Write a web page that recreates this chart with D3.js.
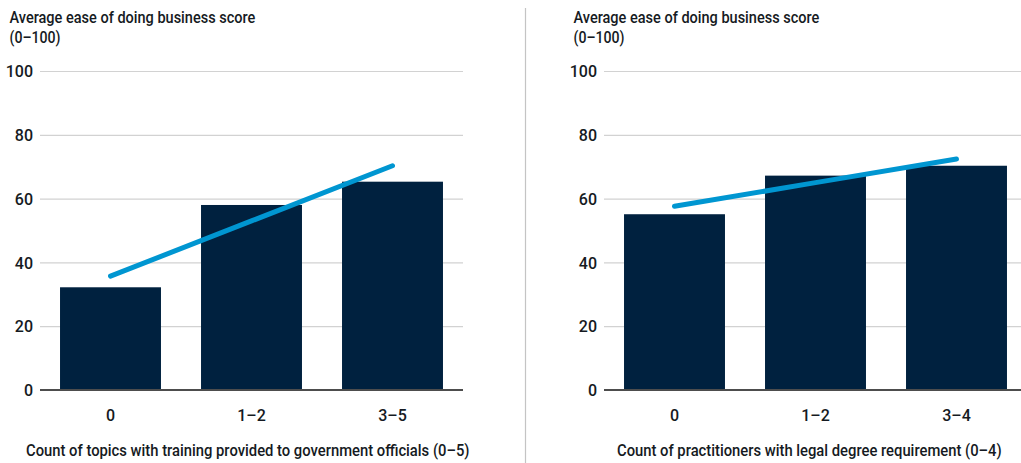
<!DOCTYPE html>
<html><head><meta charset="utf-8">
<script src="https://cdn.jsdelivr.net/npm/d3@7"></script>
<style>
html,body{margin:0;padding:0;background:#fff;}
svg{display:block;font-family:Roboto,"Open Sans",sans-serif;}
</style></head>
<body>
<svg id="c" width="1021" height="463"></svg>
<script>
const yTitle = ["Average ease of doing business score", "(0–100)"];
const yTicks = [0, 20, 40, 60, 80, 100];

const leftCategories = ["0", "1–2", "3–5"];
const leftValues = [32.2, 58.0, 65.3];
const leftTrend = [35.7, 53.0, 70.3];
const leftXTitle = "Count of topics with training provided to government officials (0–5)";

const rightCategories = ["0", "1–2", "3–4"];
const rightValues = [55.1, 67.2, 70.3];
const rightTrend = [57.6, 65.0, 72.4];
const rightXTitle = "Count of practitioners with legal degree requirement (0–4)";

const svg = d3.select("#c");
const NAVY = "#00213f", BLUE = "#0096d1", INK = "#151a22";

const y = d3.scaleLinear().domain([0, 100]).range([390, 71]);

// condensed text: draw at natural size then squeeze horizontally to a target width
function condensedText(parent, txt, x0, y0, width, size) {
  const g = parent.append("g");
  const t = g.append("text").attr("x", 0).attr("y", 0).attr("font-size", size)
    .attr("font-weight", 500).attr("fill", INK).text(txt);
  const w = t.node().getComputedTextLength();
  g.attr("transform", `translate(${x0},${y0}) scale(${width / w},1)`);
  return g;
}

// divider
svg.append("line").attr("x1", 525.5).attr("x2", 525.5).attr("y1", 8).attr("y2", 463)
  .attr("stroke", "#c4c4c4").attr("stroke-width", 1.2);

function panel(cfg) {
  const g = svg.append("g");
  const x = d3.scaleBand().domain(cfg.cats).range(cfg.range).paddingInner(0.284).paddingOuter(0.142);

  // title
  condensedText(g, yTitle[0], cfg.titleX, 22.5, 246, 16.5);
  condensedText(g, yTitle[1], cfg.titleX, 42.5, 51, 16.5);

  // y axis with gridlines
  const ya = g.append("g").attr("transform", `translate(${cfg.range[0]},0)`)
    .call(d3.axisLeft(y).tickValues(yTicks).tickSize(-(cfg.range[1] - cfg.range[0])).tickPadding(7));
  ya.select(".domain").remove();
  ya.selectAll(".tick line").attr("stroke", "#d2d2d2").attr("stroke-width", 1.2);
  ya.selectAll(".tick text").attr("font-size", 16).attr("font-weight", 500).attr("fill", INK)
    .attr("font-family", "Roboto, sans-serif").attr("dy", "0.36em");

  // bars
  g.append("g").selectAll("rect").data(cfg.vals).join("rect")
    .attr("x", (d, i) => x(cfg.cats[i])).attr("width", x.bandwidth())
    .attr("y", d => y(d)).attr("height", d => y(0) - y(d)).attr("fill", NAVY);

  // baseline
  g.append("line").attr("x1", cfg.range[0]).attr("x2", cfg.range[1])
    .attr("y1", y(0)).attr("y2", y(0)).attr("stroke", "#4d4d4d").attr("stroke-width", 1.8);

  // trend line
  const line = d3.line().x((d, i) => x(cfg.cats[i]) + x.bandwidth() / 2).y(d => y(d));
  g.append("path").datum(cfg.trend).attr("d", line).attr("fill", "none")
    .attr("stroke", BLUE).attr("stroke-width", 5).attr("stroke-linecap", "round");

  // x axis categories
  const xa = g.append("g").attr("transform", `translate(0,${y(0)})`)
    .call(d3.axisBottom(x).tickSize(0).tickPadding(0));
  xa.select(".domain").remove();
  xa.selectAll(".tick text").attr("y", 30.5).attr("dy", 0).attr("font-size", 16).attr("font-weight", 500)
    .attr("fill", INK).attr("font-family", "Roboto, sans-serif");

  // x title
  condensedText(g, cfg.xTitle, cfg.xTitleX, 456, cfg.xTitleLen, 16.5);
}

panel({cats: leftCategories, vals: leftValues, trend: leftTrend, range: [40, 463],
  titleX: 9.5, xTitle: leftXTitle, xTitleX: 26, xTitleLen: 444});
panel({cats: rightCategories, vals: rightValues, trend: rightTrend, range: [604, 1027],
  titleX: 573.5, xTitle: rightXTitle, xTitleX: 617, xTitleLen: 385});
</script>
</body></html>
